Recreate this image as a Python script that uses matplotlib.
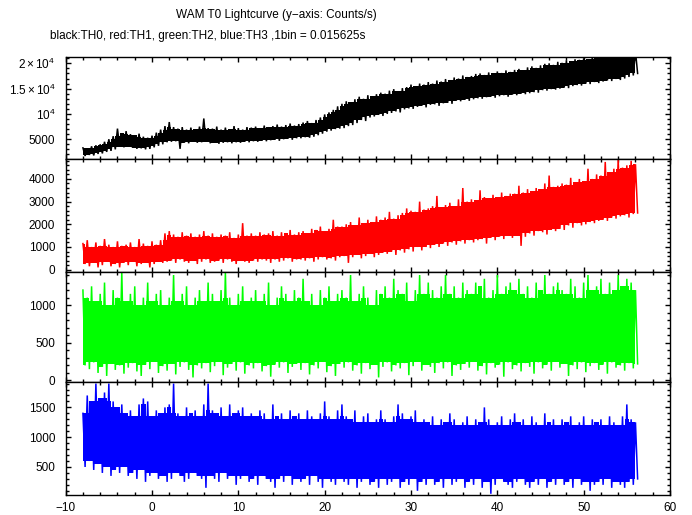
#!/usr/bin/env python

import numpy as np
import matplotlib
matplotlib.use('Agg')
import matplotlib.pyplot as plt
from matplotlib.ticker import MultipleLocator, FixedLocator, FixedFormatter

# time grid of the read-off envelope (s), one point per 0.5 s
T_START = -8.0
T_STOP = 56.0
T_STEP = 0.5

# TH0 (black) : upper / lower envelope, counts/s
TH0_HI = [3300, 3200, 3600, 3800, 4000, 4500, 5000, 5600, 7100, 6200,
          6600, 6000, 5800, 6100, 5500, 5300, 5700, 6300, 6900, 7600,
          8400, 7400, 7100, 7400, 6900, 7300, 7000, 7500, 9100, 7200,
          7100, 7500, 6900, 7300, 7000, 7600, 7200, 6900, 7400, 7300,
          7500, 7200, 7700, 7400, 7600, 7900, 7500, 7800, 8100, 7700,
          8000, 8300, 8600, 8200, 8800, 9300, 9900, 10300, 10800, 11500,
          12000, 12500, 12300, 12900, 13400, 13000, 13700, 13500, 13900, 14200,
          14000, 14600, 14900, 14500, 15100, 15300, 15800, 15500, 16000, 15800,
          16300, 16000, 16600, 16400, 16900, 16700, 17200, 17000, 17600, 17300,
          17500, 17900, 18000, 17700, 18200, 18000, 18400, 18100, 18600, 18300,
          18700, 18900, 18600, 19200, 19400, 19100, 19600, 19900, 20000, 19700,
          20300, 20100, 20600, 20400, 20800, 20700, 21000, 20800, 21300, 21100,
          21500, 21300, 21800, 21600, 22000, 22100, 21900, 22300, 22400]
TH0_LO = [1700, 1900, 1800, 2100, 2200, 2500, 2700, 3000, 3500, 3400,
          3500, 3300, 3100, 3200, 3000, 3100, 3400, 3700, 4000, 4400,
          4500, 4600, 3100, 4300, 4200, 4500, 4300, 4400, 4500, 4200,
          4300, 4100, 4300, 4400, 4200, 4400, 4300, 4500, 4400, 4600,
          4500, 4700, 4600, 4800, 4900, 4700, 5000, 5100, 4900, 5200,
          5200, 5400, 5300, 5500, 5800, 6100, 6500, 6700, 7000, 7100,
          7200, 7600, 7800, 8200, 8800, 8600, 9300, 9500, 9800, 9600,
          10000, 10200, 10500, 10300, 10900, 11100, 11000, 11400, 11600, 11300,
          11800, 11900, 11600, 12100, 12200, 12000, 12600, 12500, 12800, 12600,
          12900, 13100, 13000, 13300, 13400, 13200, 13500, 13700, 13400, 13800,
          13700, 14000, 13900, 14100, 14300, 14200, 14700, 14600, 14900, 14800,
          15000, 15200, 15100, 15500, 15700, 15600, 16000, 15900, 16300, 16100,
          16400, 16600, 16500, 16900, 16700, 17000, 17300, 17600, 18000]

# TH1 (red)
TH1_HI = [1150, 1300, 1000, 1200, 1050, 1350, 1100, 1000, 1250, 1050,
          1100, 1200, 1000, 1350, 1150, 1050, 1250, 1100, 1300, 1600,
          1700, 1550, 1450, 1650, 1500, 1600, 1450, 1550, 1700, 1500,
          1600, 1450, 1550, 1500, 1650, 1400, 1550, 2050, 1500, 1600,
          1500, 1650, 1550, 1600, 1700, 1500, 1650, 1600, 1750, 1550,
          1650, 1700, 1600, 1800, 1750, 1900, 1700, 1800, 2200, 1900,
          1900, 2000, 2100, 1950, 2300, 2050, 2200, 2100, 2350, 2200,
          2300, 2550, 2250, 2400, 2500, 2700, 2600, 2550, 3000, 2650,
          2700, 2800, 3250, 2750, 2850, 2950, 2800, 3100, 3600, 3000,
          3100, 3050, 3500, 3200, 3150, 3300, 3200, 3400, 3250, 3350,
          3350, 3700, 3400, 3550, 3450, 3600, 3550, 3800, 4150, 3650,
          3700, 3800, 3750, 4050, 3850, 4000, 3900, 4450, 4000, 4200,
          4150, 4750, 4300, 4450, 4850, 4500, 4600, 4800, 4650]
TH1_LO = [250, 150, 300, 100, 200, 350, 150, 250, 100, 300,
          200, 350, 150, 250, 300, 100, 250, 350, 300, 350,
          400, 300, 450, 350, 300, 400, 250, 350, 450, 300,
          350, 400, 300, 450, 350, 250, 400, 350, 300, 400,
          350, 450, 400, 300, 450, 350, 400, 500, 350, 450,
          450, 400, 500, 350, 450, 550, 450, 500, 400, 550,
          600, 300, 550, 650, 500, 600, 700, 550, 650, 750,
          700, 800, 650, 850, 750, 900, 800, 1000, 850, 1000,
          950, 1100, 1000, 1150, 1050, 1200, 1100, 1250, 1150, 1300,
          1200, 1300, 1350, 1150, 1400, 1300, 1450, 1350, 1500, 1400,
          1500, 1050, 1450, 1600, 1500, 1700, 1650, 1550, 1750, 1700,
          1800, 1750, 1950, 1850, 2050, 1950, 2000, 2100, 2050, 2150,
          2200, 2150, 2300, 2250, 2350, 2400, 2300, 2450, 2500]

# TH2 (green)
TH2_HI = [1200, 1100, 1250, 1050, 1150, 1300, 1000, 1200, 1100, 1440,
          1050, 1150, 1250, 1000, 1100, 1300, 1050, 1150, 1200, 1000,
          1100, 1400, 1050, 1150, 1250, 1000, 1100, 1200, 1050, 1300,
          1150, 1050, 1200, 1440, 1100, 1000, 1150, 1250, 1050, 1100,
          1200, 1050, 1150, 1300, 1000, 1100, 1250, 1150, 1050, 1200,
          1100, 1350, 1050, 1150, 1000, 1200, 1100, 1250, 1050, 1150,
          1200, 1100, 1400, 1050, 1150, 1250, 1100, 1000, 1200, 1150,
          1250, 1100, 1350, 1200, 1150, 1300, 1050, 1200, 1400, 1150,
          1300, 1200, 1100, 1250, 1400, 1150, 1250, 1100, 1300, 1200,
          1150, 1300, 1250, 1350, 1100, 1200, 1400, 1150, 1250, 1300,
          1200, 1350, 1150, 1250, 1100, 1300, 1200, 1400, 1150, 1250,
          1300, 1200, 1150, 1350, 1250, 1100, 1300, 1400, 1200, 1250,
          1350, 1150, 1300, 1200, 1400, 1250, 1350, 1300, 1200]
TH2_LO = [200, 150, 240, 100, 180, 60, 220, 140, 200, 90,
          170, 230, 120, 60, 210, 150, 250, 100, 190, 130,
          220, 80, 180, 240, 140, 40, 200, 160, 230, 110,
          190, 250, 70, 170, 220, 130, 240, 90, 200, 160,
          230, 120, 190, 50, 210, 170, 240, 100, 180, 220,
          140, 230, 80, 200, 160, 250, 110, 190, 60, 220,
          170, 240, 130, 200, 90, 230, 150, 210, 40, 180,
          240, 120, 200, 160, 230, 70, 190, 250, 130, 210,
          180, 100, 230, 160, 240, 60, 200, 140, 220, 170,
          250, 130, 190, 80, 230, 170, 210, 50, 240, 150,
          200, 120, 230, 180, 90, 240, 160, 210, 130, 250,
          170, 220, 60, 200, 150, 240, 110, 190, 230, 140,
          210, 90, 240, 170, 200, 130, 230, 160, 220]

# TH3 (blue)
TH3_HI = [1400, 1700, 1600, 1900, 1650, 1750, 1900, 1600, 1500, 1550,
          1400, 1450, 1350, 1550, 1650, 1600, 1350, 1450, 1400, 1500,
          1550, 1900, 1400, 1350, 1500, 1400, 1450, 1350, 1550, 1900,
          1450, 1400, 1500, 1350, 1550, 1400, 1450, 1500, 1350, 1400,
          1350, 1450, 1400, 1300, 1550, 1350, 1400, 1300, 1450, 1350,
          1400, 1300, 1450, 1350, 1300, 1400, 1600, 1350, 1300, 1450,
          1550, 1350, 1300, 1450, 1250, 1350, 1400, 1250, 1300, 1450,
          1300, 1250, 1350, 1550, 1400, 1300, 1350, 1450, 1250, 1300,
          1250, 1350, 1200, 1300, 1250, 1400, 1300, 1200, 1250, 1350,
          1200, 1300, 1250, 1500, 1300, 1200, 1250, 1350, 1200, 1300,
          1400, 1250, 1300, 1200, 1350, 1250, 1200, 1400, 1250, 1300,
          1200, 1300, 1250, 1350, 1200, 1250, 1350, 1200, 1300, 1250,
          1300, 1200, 1350, 1250, 1200, 1350, 1550, 1300, 1250]
TH3_LO = [500, 600, 450, 550, 400, 500, 350, 450, 400, 500,
          350, 400, 300, 450, 250, 350, 400, 300, 350, 250,
          300, 400, 350, 250, 300, 400, 350, 300, 150, 350,
          300, 250, 400, 300, 350, 200, 300, 350, 250, 300,
          200, 350, 300, 250, 150, 300, 250, 350, 200, 300,
          250, 300, 200, 350, 250, 150, 300, 250, 200, 300,
          250, 200, 300, 150, 250, 300, 200, 250, 150, 300,
          200, 250, 300, 150, 250, 200, 300, 100, 250, 200,
          300, 200, 250, 150, 300, 200, 250, 300, 150, 250,
          200, 300, 150, 250, 50, 200, 300, 250, 200, 150,
          250, 300, 200, 150, 250, 200, 300, 150, 250, 200,
          300, 200, 250, 150, 300, 200, 250, 100, 200, 250,
          200, 300, 150, 250, 200, 150, 250, 200, 300]

COLORS = ['black', '#ff0000', '#00ff00', '#0000ff']
YLIMS = [(1100, 21260), (-90, 4880), (-27, 1444), (25, 1918)]
YMAJOR = [5000, 1000, 500, 500]
YMINOR = [1000, 200, 100, 100]
TH0_TICKS = [5000, 10000, 15000, 20000]
TH0_TICKLABELS = ['5000', r'$10^4$', r'$1.5\times10^4$', r'$2\times10^4$']

# axes boxes in figure fraction (left, bottom, width, height)
BOXES = [(0.0949, 0.6913, 0.8733, 0.1981),
         (0.0949, 0.4724, 0.8733, 0.2189),
         (0.0949, 0.2573, 0.8733, 0.2151),
         (0.0949, 0.0383, 0.8733, 0.2190)]


def draw_band(ax, t, hi, lo, color):
    hi = np.asarray(hi, dtype=float)
    lo = np.asarray(lo, dtype=float)
    # solid core: lowest top / highest bottom of each bin and its neighbours
    core_hi = np.minimum(hi, np.minimum(np.r_[hi[0], hi[:-1]], np.r_[hi[1:], hi[-1]]))
    core_lo = np.maximum(lo, np.maximum(np.r_[lo[0], lo[:-1]], np.r_[lo[1:], lo[-1]]))
    ax.fill_between(t, core_lo, core_hi, step='mid', color=color, lw=0)
    # hairy fringe: line swinging between top and bottom of each bin
    tz = np.empty(2 * len(t))
    yz = np.empty(2 * len(t))
    tz[0::2] = t
    tz[1::2] = t + T_STEP / 2
    yz[0::2] = hi
    yz[1::2] = lo
    ax.plot(tz, yz, color=color, lw=1.1, solid_joinstyle='miter')


def main():
    plt.rcParams['font.family'] = ['Liberation Sans', 'DejaVu Sans']
    plt.rcParams['mathtext.fontset'] = 'custom'
    plt.rcParams['mathtext.rm'] = 'Liberation Sans'
    plt.rcParams['mathtext.it'] = 'Liberation Sans'

    t = np.linspace(T_START, T_STOP, int(round((T_STOP - T_START) / T_STEP)) + 1)
    HIS = [TH0_HI, TH1_HI, TH2_HI, TH3_HI]
    LOS = [TH0_LO, TH1_LO, TH2_LO, TH3_LO]

    fig = plt.figure(figsize=(6.92, 5.15), dpi=100)
    for k in range(4):
        ax = fig.add_axes(BOXES[k])
        draw_band(ax, t, HIS[k], LOS[k], COLORS[k])
        ax.set_xlim(-10, 60)
        ax.set_ylim(*YLIMS[k])
        ax.xaxis.set_major_locator(MultipleLocator(10))
        ax.xaxis.set_minor_locator(MultipleLocator(2))
        if k == 0:
            ax.yaxis.set_major_locator(FixedLocator(TH0_TICKS))
            ax.yaxis.set_major_formatter(FixedFormatter(TH0_TICKLABELS))
        else:
            ax.yaxis.set_major_locator(MultipleLocator(YMAJOR[k]))
        ax.yaxis.set_minor_locator(MultipleLocator(YMINOR[k]))
        ax.tick_params(which='both', direction='in', top=True, right=True,
                       width=1.0, labelsize=8.5, colors='black')
        ax.tick_params(which='major', length=3.8)
        ax.tick_params(which='minor', length=2.0)
        ax.tick_params(axis='y', pad=7.5)
        ax.tick_params(axis='x', pad=5)
        if k < 3:
            ax.tick_params(axis='x', labelbottom=False)
        for s in ax.spines.values():
            s.set_linewidth(1.0)

    fig.text(176 / 692, 1 - 15 / 515, 'WAM T0 Lightcurve (y\u2212axis: Counts/s)',
             fontsize=8.5, ha='left', va='center')
    fig.text(50 / 692, 1 - 36 / 515,
             'black:TH0, red:TH1, green:TH2, blue:TH3 ,1bin = 0.015625s',
             fontsize=8.5, ha='left', va='center')

    plt.savefig('out.png', dpi=100)


if __name__ == '__main__':
    main()
